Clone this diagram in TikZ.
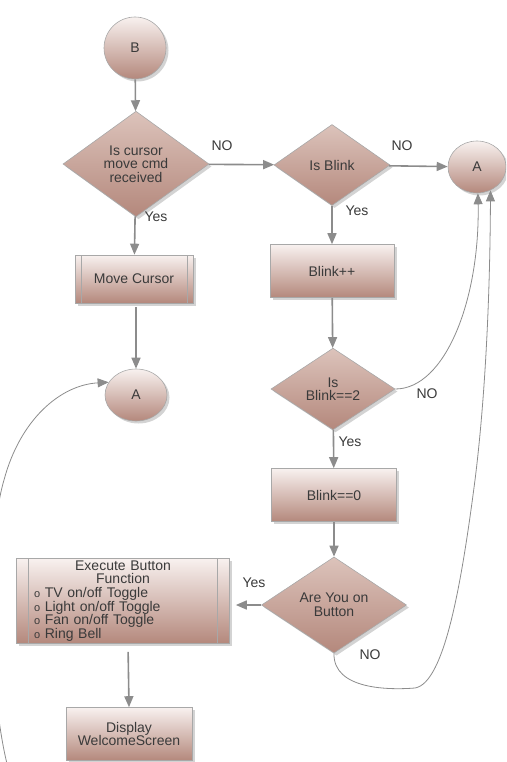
\documentclass[tikz,border=0pt]{standalone}
\usepackage{fontspec}
\setmainfont{Liberation Sans}
\usetikzlibrary{shapes.geometric,shadows,arrows.meta}

\definecolor{claro}{HTML}{F8F1EF}
\definecolor{rombo}{HTML}{DCC3BB}
\definecolor{oscuro}{HTML}{B4887C}
\definecolor{linea}{HTML}{8C8C8C}
\definecolor{borde}{HTML}{A8A8A8}
\definecolor{texto}{HTML}{3A3A3A}

\tikzset{
  forma/.style={draw=borde, line width=0.6pt, top color=claro, bottom color=oscuro,
    text=texto, font=\fontsize{14}{13.6}\selectfont, align=center, inner sep=1pt,
    drop shadow={shadow xshift=2.5pt, shadow yshift=-2.5pt, opacity=0.35}},
  conector/.style={forma, ellipse},
  decision/.style={forma, diamond, top color=rombo},
  proceso/.style={forma, rectangle},
  subproceso/.style={proceso, path picture={
    \draw[borde, line width=0.6pt]
      ([xshift=#1]path picture bounding box.north west) -- ([xshift=#1]path picture bounding box.south west)
      ([xshift=-#1]path picture bounding box.north east) -- ([xshift=-#1]path picture bounding box.south east);}},
  flecha/.style={draw=linea, line width=1.6pt, -{Triangle[length=11pt,width=9pt]}},
  curva/.style={draw=linea, line width=0.8pt, -{Triangle[length=11pt,width=9pt]}},
  etiqueta/.style={text=texto, font=\fontsize{14}{13.6}\selectfont, inner sep=0pt}
}

\begin{document}
\begin{tikzpicture}[x=1pt, y=-1pt]
    \clip (0,0) rectangle (506,762);

    % Conectores
    \node[conector, minimum width=62pt, minimum height=62pt] (B) at (135,48) {B};
    \node[conector, minimum width=58pt, minimum height=52pt] (Aright) at (477,167) {A};
    \node[conector, minimum width=62pt, minimum height=52pt] (Aleft) at (136,395) {A};

    % Decisiones
    \node[decision, minimum width=146pt, minimum height=88pt] (cursorq) at (136,164) {Is cursor\\move cmd\\received};
    \node[decision, minimum width=116pt, minimum height=81pt] (blinkq) at (332,165) {Is Blink};
    \node[decision, minimum width=124pt, minimum height=80pt] (blinktwo) at (333,389) {Is\\Blink==2};
    \node[decision, minimum width=145pt, minimum height=87pt] (buttonq) at (334,605) {Are You on\\Button};

    % Procesos
    \node[subproceso=6pt, minimum width=118pt, minimum height=48pt] (movecur) at (134,279) {Move Cursor};
    \node[proceso, minimum width=124pt, minimum height=53pt] (blinkinc) at (332,271) {Blink++};
    \node[proceso, minimum width=125pt, minimum height=53pt] (blinkzero) at (334,495) {Blink==0};
    \node[subproceso=12pt, minimum width=213pt, minimum height=85pt, text width=178pt, align=left] (execfn) at (123,601)
      {\centering Execute Button\\Function\par\raggedright
       {\fontsize{11}{11}\selectfont o} TV on/off Toggle\\
       {\fontsize{11}{11}\selectfont o} Light on/off Toggle\\
       {\fontsize{11}{11}\selectfont o} Fan on/off Toggle\\
       {\fontsize{11}{11}\selectfont o} Ring Bell};
    \node[proceso, minimum width=126pt, minimum height=53pt] (welcome) at (129,734) {Display\\WelcomeScreen};

    % Flechas rectas
    \draw[flecha] (B) -- (cursorq);
    \draw[flecha] (cursorq) -- (blinkq);
    \draw[flecha] (blinkq) -- (Aright);
    \draw[flecha] (cursorq) -- (movecur);
    \draw[flecha, shorten <=4pt] (movecur.south -| Aleft) -- (Aleft);
    \draw[flecha] (blinkq) -- (blinkinc);
    \draw[flecha] (blinkinc) -- (blinktwo);
    \draw[flecha] (blinktwo) -- (blinkzero);
    \draw[flecha] (blinkzero) -- (buttonq);
    \draw[flecha, shorten >=6pt] (buttonq.west) -- (buttonq.west -| execfn.east);
    \draw[flecha, shorten <=8pt] ([xshift=5pt]execfn.south) -- (welcome.north);

    % Flechas curvas
    \draw[curva] (blinktwo.east) .. controls (445,389) and (480,300) .. (Aright.-88);
    \draw[curva] (buttonq.south) .. controls (333,690) and (390,690) .. (415,688)
                 .. controls (445,683) and (462,580) .. (475,480)
                 .. controls (485,400) and (490,300) .. (Aright.-60);
    \coordinate (inicio) at (10,775);
    \draw[curva] (inicio) .. controls (-12,700) and (-14,540) .. (4,480)
                 .. controls (20,420) and (60,385) .. (Aleft.155);

    % Etiquetas
    \node[etiqueta] (no1) at (222,146) {NO};
    \node[etiqueta] (no2) at (402,146) {NO};
    \node[etiqueta] (yes1) at (156,217) {Yes};
    \node[etiqueta] (yes2) at (357,211) {Yes};
    \node[etiqueta] (no3) at (427,394) {NO};
    \node[etiqueta] (yes3) at (350,442) {Yes};
    \node[etiqueta] (yes4) at (254,583) {Yes};
    \node[etiqueta] (no4) at (370,655) {NO};
\end{tikzpicture}
\end{document}
